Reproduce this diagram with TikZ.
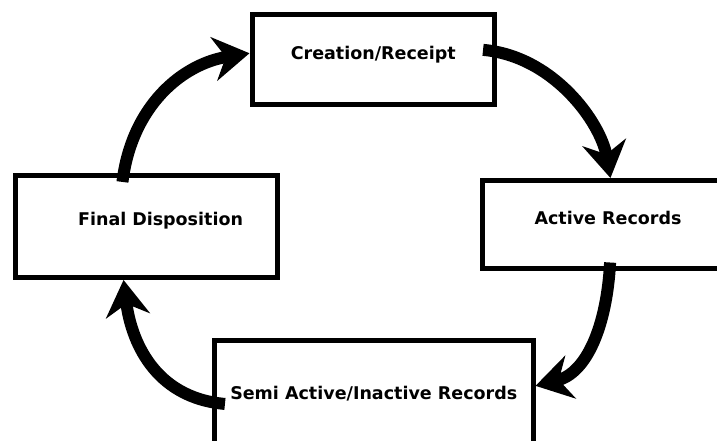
\documentclass[tikz,border=0pt]{standalone}
\usepackage{fontspec}
\setmainfont{DejaVu Sans}
\usetikzlibrary{arrows.meta}

\tikzset{
  etapa/.style={draw, rectangle, line width=5pt, inner sep=0pt,
    font=\bfseries\fontsize{17.5}{20}\selectfont,
    text height=13pt, text depth=14pt},
  ciclo/.style={line width=12pt, -{Stealth[length=36pt,width=44pt,inset=12pt]}}
}

\begin{document}
\begin{tikzpicture}[x=1pt,y=1pt]
\useasboundingbox (0,0) rectangle (717,441);

% Cajas
\node[etapa, minimum width=242.5pt, minimum height=89.5pt] (creation) at (373.25,381.25) {Creation/Receipt};
\node[etapa, minimum width=251pt, minimum height=88.5pt] (active) at (608,216.25) {Active Records};
\node[etapa, minimum width=318.5pt, minimum height=118pt] (semi) at (373.75,41) {Semi Active/Inactive Records};
\node[etapa, minimum width=261.5pt, minimum height=102pt,
      text width=193.5pt, align=right] (final) at (146.25,214.5) {Final Disposition};

% Flechas del ciclo
\draw[ciclo, shorten <=-9pt] (final.113) to[out=83, in=189] (creation.177);
\draw[ciclo, shorten <=-14pt] (creation.4) to[out=-5, in=100, looseness=0.85] (active.87);
\draw[ciclo, shorten <=-9pt] (active.-88) to[out=-93, in=14] (semi.5);
\draw[ciclo, shorten <=-13pt] (semi.181) to[out=175, in=-83] (final.247);
\end{tikzpicture}
\end{document}
